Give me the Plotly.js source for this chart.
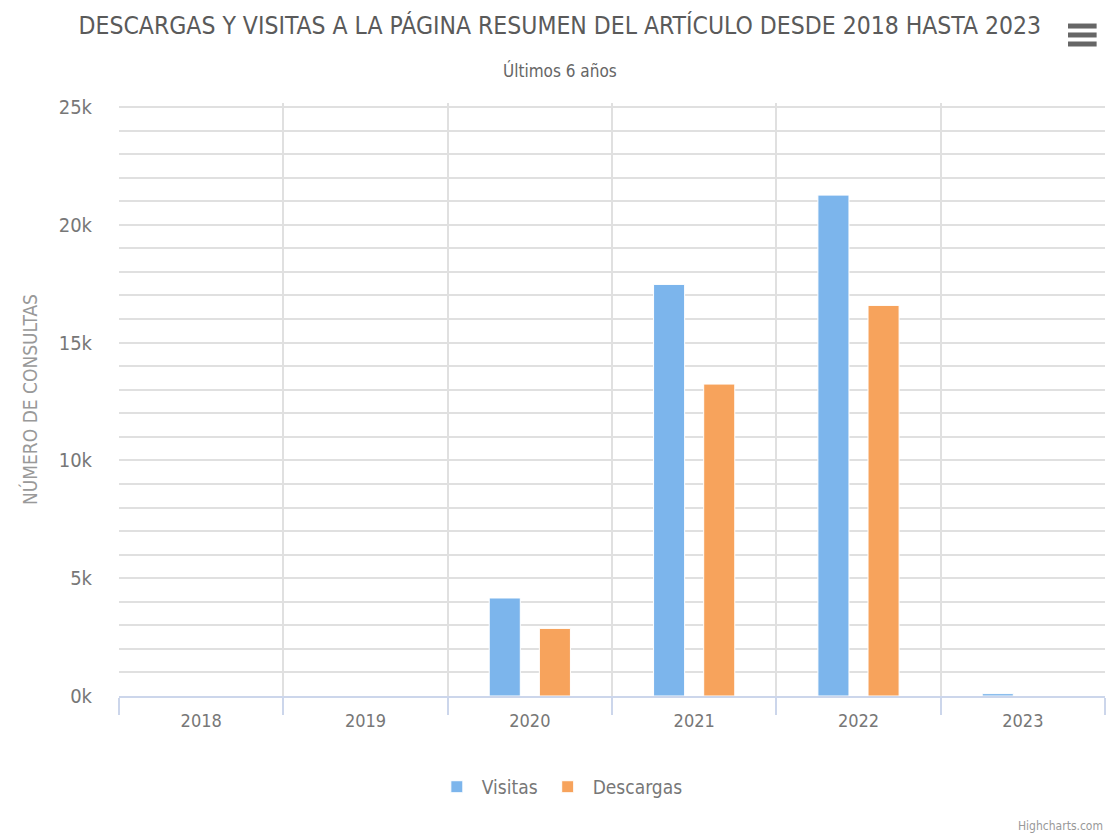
<!DOCTYPE html>
<html>
<head>
<meta charset="utf-8">
<script src="https://cdn.plot.ly/plotly-3.0.1.min.js"></script>
<style>
  html, body { margin: 0; padding: 0; background: #fff; }
  #chart { width: 1113px; height: 838px; }
</style>
</head>
<body>
<div id="chart"></div>
<script>
const years = ['2018', '2019', '2020', '2021', '2022', '2023'];
const visitas = [0, 0, 4160, 17470, 21260, 100];
const descargas = [0, 0, 2870, 13240, 16580, 0];
const seriesNames = ['Visitas', 'Descargas'];
const yTickVals = [0, 5000, 10000, 15000, 20000, 25000];
const yTickText = ['0k', '5k', '10k', '15k', '20k', '25k'];

const FONT = '"DejaVu Sans Condensed", "Liberation Sans Narrow", "Roboto", sans-serif';

const traces = [
  {
    type: 'bar', name: seriesNames[0], x: years, y: visitas,
    marker: { color: '#7cb5ec', line: { color: '#ffffff', width: 1 } },
    hoverinfo: 'x+y+name'
  },
  {
    type: 'bar', name: seriesNames[1], x: years, y: descargas,
    marker: { color: '#f7a35c', line: { color: '#ffffff', width: 1 } },
    hoverinfo: 'x+y+name'
  }
];

const layout = {
  width: 1113, height: 838,
  paper_bgcolor: '#ffffff', plot_bgcolor: '#ffffff',
  font: { family: FONT, color: '#666666', size: 20 },
  margin: { l: 119, r: 8, t: 103, b: 142, pad: 0 },
  barmode: 'group',
  bargap: 0.39,
  bargroupgap: 0.38,
  title: {
    text: 'DESCARGAS Y VISITAS A LA PÁGINA RESUMEN DEL ARTÍCULO DESDE 2018 HASTA 2023',
    font: { family: FONT, size: 24.5, color: '#5a5a5a' },
    xref: 'container', x: 0.503, xanchor: 'center',
    yref: 'container', y: 0.970, yanchor: 'middle'
  },
  showlegend: true,
  legend: {
    orientation: 'h',
    xref: 'container', x: 0.503, xanchor: 'center',
    yref: 'container', y: 0.061, yanchor: 'middle',
    font: { family: FONT, size: 19, color: '#777777' },
    itemwidth: 40,
    traceorder: 'normal'
  },
  xaxis: {
    type: 'category',
    tickson: 'boundaries',
    ticks: 'outside', ticklen: 17, tickcolor: '#ccd6eb', tickwidth: 1.5,
    ticklabelstandoff: 8,
    showline: true, linecolor: '#ccd6eb', linewidth: 1.5,
    showgrid: true, gridcolor: '#e0e0e0', gridwidth: 1.5,
    tickfont: { family: FONT, size: 18, color: '#777777' },
    fixedrange: true
  },
  yaxis: {
    range: [0, 25170],
    tickvals: yTickVals, ticktext: yTickText,
    ticks: '', ticklabelstandoff: 26,
    showgrid: true, gridcolor: '#e0e0e0', gridwidth: 1.5,
    minor: { dtick: 1000, showgrid: true, gridcolor: '#e0e0e0', gridwidth: 1.5, ticks: '' },
    zeroline: false,
    showline: false,
    tickfont: { family: FONT, size: 20, color: '#777777' },
    title: {
      text: 'NÚMERO DE CONSULTAS',
      font: { family: FONT, size: 19, color: '#999999' },
      standoff: 16
    },
    automargin: false,
    fixedrange: true
  },
  annotations: [
    {
      text: 'Últimos 6 años', showarrow: false,
      xref: 'paper', yref: 'paper', x: 0.4473, y: 1.0544,
      xanchor: 'center', yanchor: 'middle',
      font: { family: FONT, size: 17, color: '#666666' }
    },
    {
      text: 'Highcharts.com', showarrow: false,
      xref: 'paper', yref: 'paper', x: 1.0, y: -0.2192,
      xanchor: 'right', yanchor: 'middle',
      font: { family: FONT, size: 12, color: '#999999' }
    }
  ],
  shapes: [
    { type: 'line', xref: 'paper', yref: 'paper', x0: 0.9625, x1: 0.9915, y0: 1.1298, y1: 1.1298, line: { color: '#666666', width: 5 } },
    { type: 'line', xref: 'paper', yref: 'paper', x0: 0.9625, x1: 0.9915, y0: 1.1147, y1: 1.1147, line: { color: '#666666', width: 5 } },
    { type: 'line', xref: 'paper', yref: 'paper', x0: 0.9625, x1: 0.9915, y0: 1.0995, y1: 1.0995, line: { color: '#666666', width: 5 } }
  ]
};

Plotly.newPlot('chart', traces, layout, { displayModeBar: false, responsive: false });
</script>
</body>
</html>
